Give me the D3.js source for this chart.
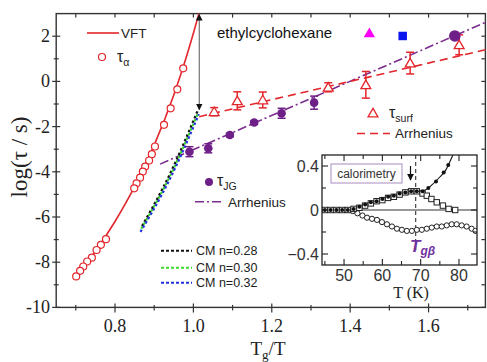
<!DOCTYPE html>
<html><head><meta charset="utf-8">
<script src="https://cdn.jsdelivr.net/npm/d3@7"></script>
<style>body{margin:0;background:#fff}svg{display:block}</style>
</head><body><svg id="c" width="487" height="362"></svg>
<script>
// ---------- main plot data ----------
const xMajorTicks = [0.8, 1.0, 1.2, 1.4, 1.6];
const xMinorTicks = [0.7, 0.9, 1.1, 1.3, 1.5, 1.7];
const yMajorTicks = [-10, -8, -6, -4, -2, 0, 2];
const yMinorTicks = [-9, -7, -5, -3, -1, 1];

const tauAlphaX = [0.974, 0.959, 0.942, 0.925, 0.902, 0.894, 0.887, 0.877, 0.871, 0.864, 0.855, 0.849,
                   0.777, 0.764, 0.753, 0.741, 0.729, 0.719, 0.711, 0.701];
const tauAlphaY = [0.58, -0.35, -1.19, -1.92, -2.88, -3.22, -3.50, -3.77, -3.99, -4.26, -4.51, -4.73,
                   -6.98, -7.23, -7.46, -7.80, -7.97, -8.19, -8.38, -8.63];

const vftX = [0.700, 0.75, 0.80, 0.85, 0.90, 0.95, 0.98, 1.00, 1.014];
const vftY = [-8.65, -7.52, -6.20, -4.66, -2.82, -0.60, 0.97, 2.13, 3.0];

const cm028X = [0.869, 0.94, 1.012];
const cm028Y = [-6.40, -4.10, -1.25];
const cm030X = [0.867, 0.94, 1.013];
const cm030Y = [-6.52, -4.20, -1.35];
const cm032X = [0.865, 0.94, 1.014];
const cm032Y = [-6.66, -4.32, -1.45];

const surfX = [1.053, 1.112, 1.177, 1.344, 1.440, 1.553, 1.678];
const surfY = [-1.34, -0.86, -0.82, -0.26, -0.15, 0.81, 1.62];
const surfErr = [0.18, 0.40, 0.35, 0.20, 0.59, 0.48, 0.44];
const surfArrX = [1.015, 1.75];
const surfArrY = [-1.56, 1.42];

const jgX = [0.990, 1.038, 1.093, 1.155, 1.225, 1.308, 1.667];
const jgY = [-3.11, -2.96, -2.37, -1.82, -1.41, -0.94, 2.01];
const jgErr = [0.22, 0.20, 0.08, 0.08, 0.22, 0.29, 0];
const jgArrX = [0.915, 1.75];
const jgArrY = [-3.66, 2.65];

const triX = [1.449], triY = [2.10];
const sqX = [1.534], sqY = [2.01];

const arrowX = 1.015, arrowTop = 3.0, arrowBottom = -1.25;

// ---------- inset data ----------
const insetXTicks = [50, 60, 70, 80];
const insetXMinor = [45, 55, 65, 75];
const insetYTicks = [-0.4, 0, 0.4];
const insetYMinor = [-0.2, 0.2];

const calFilledT = [45,46.5,48,49.5,51,52.5,54,55.5,57,58.5,60,61.5,63,64.5,66,67.5,69,70.5,72,74,76,77.2];
const calFilledV = [0,0,0,0,0,0.01,0.03,0.05,0.07,0.08,0.10,0.12,0.13,0.15,0.16,0.17,0.17,0.17,0.20,0.26,0.34,0.41];
const calFitT = [44.3,50,54,58,62,66,69,71,73,75,76.5,77.5,78.4];
const calFitV = [0,0,0.03,0.08,0.12,0.16,0.17,0.18,0.23,0.30,0.36,0.43,0.5];
const calSqT = [45,46.5,48,49.5,51,52.5,54,55.5,57,58.5,60,61.5,63,64.5,66,67.5,69,70.5,71.6,72.8,74.2,75.8,77.3,79];
const calSqV = [0,0,0,0,0,0.01,0.02,0.04,0.06,0.08,0.09,0.11,0.12,0.14,0.16,0.17,0.17,0.15,0.13,0.10,0.07,0.04,0.01,0];
const calCirT = [51,52.3,53.5,54.8,56,57.3,58.6,59.9,61.2,62.5,63.8,65.1,66.4,67.7,69,70.3,71.6,72.9,74.2,75.5,76.8,78.1,79.4,80.7,82,83.3,84.3];
const calCirV = [0,-0.01,-0.03,-0.05,-0.07,-0.08,-0.09,-0.11,-0.13,-0.15,-0.17,-0.18,-0.19,-0.19,-0.18,-0.18,-0.17,-0.16,-0.15,-0.15,-0.14,-0.13,-0.13,-0.14,-0.15,-0.17,-0.19];
const tgBeta = 68.7;

// ---------- colours ----------
const RED = "#e3262b", PURPLE = "#6e1f88", DASHPURPLE = "#7a2d8e";
const SERIF = "'Liberation Serif','Times New Roman',serif";
const SANS = "'Liberation Sans',Arial,sans-serif";

const svg = d3.select("#c");
const zip = (a, b) => a.map((v, i) => [v, b[i]]);

const x = d3.scaleLinear().domain([0.65, 1.745]).range([56.2, 485.4]);
const y = d3.scaleLinear().domain([-10, 3]).range([307.4, 13.6]);

const [X0, X1] = x.range(), [Y0, Y1] = [y(3), y(-10)];

// frame
svg.append("rect").attr("x", X0).attr("y", Y0).attr("width", X1 - X0).attr("height", Y1 - Y0)
  .attr("fill", "none").attr("stroke", "#333").attr("stroke-width", 1.4);

// ticks
const tk = svg.append("g").attr("stroke", "#333").attr("stroke-width", 1.2);
xMajorTicks.forEach(v => tk.append("line").attr("x1", x(v)).attr("x2", x(v)).attr("y1", Y1 - 4).attr("y2", Y1 + 5));
xMinorTicks.forEach(v => tk.append("line").attr("x1", x(v)).attr("x2", x(v)).attr("y1", Y1 - 2.5).attr("y2", Y1 + 3));
xMajorTicks.concat(xMinorTicks).forEach(v => tk.append("line").attr("x1", x(v)).attr("x2", x(v)).attr("y1", Y0).attr("y2", Y0 + 4));
yMajorTicks.forEach(v => tk.append("line").attr("y1", y(v)).attr("y2", y(v)).attr("x1", X0 - 4).attr("x2", X0 + 4));
yMinorTicks.forEach(v => tk.append("line").attr("y1", y(v)).attr("y2", y(v)).attr("x1", X0 - 2.5).attr("x2", X0 + 2.5));
yMajorTicks.concat(yMinorTicks).forEach(v => tk.append("line").attr("y1", y(v)).attr("y2", y(v)).attr("x1", X1 - 4).attr("x2", X1));

// tick labels
svg.append("g").selectAll("text").data(xMajorTicks).join("text")
  .attr("x", d => x(d)).attr("y", 332).attr("text-anchor", "middle")
  .attr("font-family", SERIF).attr("font-size", 18).attr("fill", "#222")
  .text(d => d3.format(".1f")(d));
svg.append("g").selectAll("text").data(yMajorTicks).join("text")
  .attr("x", 50).attr("y", d => y(d) + 6).attr("text-anchor", "end")
  .attr("font-family", SERIF).attr("font-size", 18).attr("fill", "#222")
  .text(d => d < 0 ? "-" + Math.abs(d) : String(d));

// axis titles
svg.append("text").attr("transform", "translate(27,157) rotate(-90)").attr("text-anchor", "middle")
  .attr("font-family", SERIF).attr("font-size", 23).attr("fill", "#222").text("log(τ / s)");
const xt = svg.append("text").attr("x", 268).attr("y", 355).attr("text-anchor", "middle")
  .attr("font-family", SERIF).attr("font-size", 19).attr("fill", "#222");
xt.append("tspan").text("T");
xt.append("tspan").attr("font-size", 13).attr("dy", 4).text("g");
xt.append("tspan").attr("dy", -4).text("/T");

// lines
const line = d3.line().x(d => x(d[0])).y(d => y(d[1]));
const lineSmooth = d3.line().x(d => x(d[0])).y(d => y(d[1])).curve(d3.curveMonotoneX);

svg.append("path").attr("d", line(zip(jgArrX, jgArrY))).attr("fill", "none")
  .attr("stroke", DASHPURPLE).attr("stroke-width", 1.6).attr("stroke-dasharray", "9,3,2,3");
svg.append("path").attr("d", line(zip(surfArrX, surfArrY))).attr("fill", "none")
  .attr("stroke", RED).attr("stroke-width", 1.6).attr("stroke-dasharray", "8,5");

[[cm028X, cm028Y, "#111"], [cm030X, cm030Y, "#3adb2a"], [cm032X, cm032Y, "#2230e0"]].forEach(([xs, ys, c]) => {
  svg.append("path").attr("d", lineSmooth(zip(xs, ys))).attr("fill", "none")
    .attr("stroke", c).attr("stroke-width", 2.2).attr("stroke-dasharray", "2.5,2.5");
});

svg.append("path").attr("d", lineSmooth(zip(vftX, vftY))).attr("fill", "none")
  .attr("stroke", RED).attr("stroke-width", 1.6);

// double arrow
svg.append("defs").html(
  '<marker id="ah" viewBox="0 0 10 10" refX="9" refY="5" markerWidth="6" markerHeight="7" orient="auto-start-reverse">' +
  '<path d="M0,0 L10,5 L0,10 z" fill="#111"/></marker>');
svg.append("line").attr("x1", x(arrowX)).attr("x2", x(arrowX)).attr("y1", y(arrowTop) + 1).attr("y2", y(arrowBottom))
  .attr("stroke", "#666").attr("stroke-width", 1.1)
  .attr("marker-start", "url(#ah)").attr("marker-end", "url(#ah)");

// error bars
function errBars(xs, ys, es, col) {
  const g = svg.append("g").attr("stroke", col).attr("stroke-width", 1.5);
  xs.forEach((xv, i) => {
    if (!es[i]) return;
    const cx = x(xv), t = y(ys[i] + es[i]), b = y(ys[i] - es[i]);
    g.append("line").attr("x1", cx).attr("x2", cx).attr("y1", t).attr("y2", b);
    g.append("line").attr("x1", cx - 4).attr("x2", cx + 4).attr("y1", t).attr("y2", t);
    g.append("line").attr("x1", cx - 4).attr("x2", cx + 4).attr("y1", b).attr("y2", b);
  });
}
errBars(surfX, surfY, surfErr, RED);
errBars(jgX, jgY, jgErr, PURPLE);

// points
const tri = d3.symbol(d3.symbolTriangle).size(42)();
svg.append("g").selectAll("path").data(zip(surfX, surfY)).join("path")
  .attr("d", tri).attr("transform", d => `translate(${x(d[0])},${y(d[1]) + 1})`)
  .attr("fill", "#fff").attr("stroke", RED).attr("stroke-width", 1.3);
svg.append("g").selectAll("circle").data(zip(jgX, jgY)).join("circle")
  .attr("cx", d => x(d[0])).attr("cy", d => y(d[1])).attr("r", (d, i) => i === jgX.length - 1 ? 5.8 : 4.3)
  .attr("fill", PURPLE);
svg.append("g").selectAll("circle").data(zip(tauAlphaX, tauAlphaY)).join("circle")
  .attr("cx", d => x(d[0])).attr("cy", d => y(d[1])).attr("r", 3.5)
  .attr("fill", "#fff").attr("stroke", RED).attr("stroke-width", 1.2);
svg.append("g").selectAll("path").data(zip(triX, triY)).join("path")
  .attr("d", d3.symbol(d3.symbolTriangle).size(55)()).attr("transform", d => `translate(${x(d[0])},${y(d[1])})`)
  .attr("fill", "#ff00ff");
svg.append("g").selectAll("path").data(zip(sqX, sqY)).join("path")
  .attr("d", d3.symbol(d3.symbolSquare).size(72)()).attr("transform", d => `translate(${x(d[0])},${y(d[1])})`)
  .attr("fill", "#0a14ee");

// texts / legends
svg.append("text").attr("x", 217).attr("y", 38).attr("font-family", SANS).attr("font-size", 15)
  .attr("fill", "#111").text("ethylcyclohexane");

svg.append("line").attr("x1", 87).attr("x2", 119).attr("y1", 33).attr("y2", 33).attr("stroke", RED).attr("stroke-width", 1.6);
svg.append("text").attr("x", 121).attr("y", 38).attr("font-family", SANS).attr("font-size", 13.5).attr("fill", "#222").text("VFT");
svg.append("circle").attr("cx", 102).attr("cy", 57).attr("r", 3.5).attr("fill", "#fff").attr("stroke", RED).attr("stroke-width", 1.2);
function tauLabel(px, py, sub, col) {
  const t = svg.append("text").attr("x", px).attr("y", py).attr("font-family", SANS).attr("font-size", 16).attr("fill", col);
  t.append("tspan").text("τ");
  t.append("tspan").attr("font-size", 10.5).attr("dy", 4).text(sub);
}
tauLabel(117, 62, "α", "#222");

svg.append("path").attr("d", tri).attr("transform", "translate(373,114)")
  .attr("fill", "#fff").attr("stroke", RED).attr("stroke-width", 1.3);
tauLabel(389, 118, "surf", "#222");
svg.append("line").attr("x1", 357).attr("x2", 390).attr("y1", 133.5).attr("y2", 133.5)
  .attr("stroke", RED).attr("stroke-width", 1.6).attr("stroke-dasharray", "8,5");
svg.append("text").attr("x", 395).attr("y", 138).attr("font-family", SANS).attr("font-size", 13.5).attr("fill", "#222").text("Arrhenius");

svg.append("circle").attr("cx", 209).attr("cy", 182).attr("r", 4).attr("fill", PURPLE);
tauLabel(217, 186, "JG", "#222");
svg.append("line").attr("x1", 195).attr("x2", 222).attr("y1", 201.7).attr("y2", 201.7)
  .attr("stroke", DASHPURPLE).attr("stroke-width", 1.6).attr("stroke-dasharray", "9,3,2,3");
svg.append("text").attr("x", 228).attr("y", 206.5).attr("font-family", SANS).attr("font-size", 13.5).attr("fill", "#222").text("Arrhenius");

const cmLeg = [["#111", "CM n=0.28", 250.7], ["#3adb2a", "CM n=0.30", 267.7], ["#2230e0", "CM n=0.32", 282.7]];
cmLeg.forEach(([c, t, yy]) => {
  svg.append("line").attr("x1", 161).attr("x2", 192).attr("y1", yy).attr("y2", yy)
    .attr("stroke", c).attr("stroke-width", 2).attr("stroke-dasharray", "3,2");
  svg.append("text").attr("x", 196).attr("y", yy + 4.5).attr("font-family", SANS).attr("font-size", 12.5).attr("fill", "#222").text(t);
});

// ---------- inset ----------
const xi = d3.scaleLinear().domain([44.25, 84.7]).range([322, 477]);
const yi = d3.scaleLinear().domain([-0.5, 0.5]).range([265, 155]);
const ins = svg.append("g");
ins.append("rect").attr("x", 322).attr("y", 155).attr("width", 155).attr("height", 110).attr("fill", "#fff");
ins.append("defs").html('<clipPath id="ic"><rect x="322" y="155" width="155" height="110"/></clipPath>');
const ic = ins.append("g").attr("clip-path", "url(#ic)");

ic.append("line").attr("x1", 322).attr("x2", 477).attr("y1", yi(0)).attr("y2", yi(0)).attr("stroke", "#333").attr("stroke-width", 1.2);
ic.append("line").attr("x1", xi(tgBeta)).attr("x2", xi(tgBeta)).attr("y1", 155).attr("y2", 252)
  .attr("stroke", "#333").attr("stroke-width", 1.1).attr("stroke-dasharray", "4,3");

const li = d3.line().x(d => xi(d[0])).y(d => yi(d[1])).curve(d3.curveMonotoneX);
ic.append("path").attr("d", li(zip(calFitT, calFitV))).attr("fill", "none").attr("stroke", "#111").attr("stroke-width", 1.1);

ic.append("g").selectAll("circle").data(zip(calCirT, calCirV)).join("circle")
  .attr("cx", d => xi(d[0])).attr("cy", d => yi(d[1])).attr("r", 2.6)
  .attr("fill", "#fff").attr("stroke", "#222").attr("stroke-width", 1);
ic.append("g").selectAll("rect").data(zip(calSqT, calSqV)).join("rect")
  .attr("x", d => xi(d[0]) - 2.7).attr("y", d => yi(d[1]) - 2.7).attr("width", 5.4).attr("height", 5.4)
  .attr("fill", "#fff").attr("stroke", "#222").attr("stroke-width", 1);
ic.append("g").selectAll("circle").data(zip(calFilledT, calFilledV)).join("circle")
  .attr("cx", d => xi(d[0])).attr("cy", d => yi(d[1])).attr("r", 2)
  .attr("fill", "#111");

// calorimetry box
ins.append("rect").attr("x", 331).attr("y", 164).attr("width", 71).attr("height", 19)
  .attr("fill", "#fff").attr("stroke", "#a88cc0").attr("stroke-width", 1);
ins.append("text").attr("x", 366.5).attr("y", 177.5).attr("text-anchor", "middle")
  .attr("font-family", SANS).attr("font-size", 12).attr("fill", "#333").text("calorimetry");
// arrow
ins.append("line").attr("x1", 410.5).attr("x2", 410.5).attr("y1", 166).attr("y2", 180)
  .attr("stroke", "#111").attr("stroke-width", 1.2).attr("marker-end", "url(#ah)");

// Tgβ
const tg = ins.append("text").attr("x", 410).attr("y", 252).attr("font-family", SANS)
  .attr("font-weight", "bold").attr("font-style", "italic").attr("font-size", 17).attr("fill", "#7030a0");
tg.append("tspan").text("T");
tg.append("tspan").attr("font-size", 12).attr("dy", 3).text("gβ");

// inset frame & ticks
ins.append("rect").attr("x", 322).attr("y", 155).attr("width", 155).attr("height", 110)
  .attr("fill", "none").attr("stroke", "#222").attr("stroke-width", 1.3);
const it = ins.append("g").attr("stroke", "#222").attr("stroke-width", 1.1);
insetXTicks.forEach(v => {
  it.append("line").attr("x1", xi(v)).attr("x2", xi(v)).attr("y1", 265).attr("y2", 259);
  it.append("line").attr("x1", xi(v)).attr("x2", xi(v)).attr("y1", 155).attr("y2", 161);
});
insetXMinor.forEach(v => {
  it.append("line").attr("x1", xi(v)).attr("x2", xi(v)).attr("y1", 265).attr("y2", 261);
  it.append("line").attr("x1", xi(v)).attr("x2", xi(v)).attr("y1", 155).attr("y2", 159);
});
insetYTicks.forEach(v => {
  it.append("line").attr("x1", 322).attr("x2", 328).attr("y1", yi(v)).attr("y2", yi(v));
  it.append("line").attr("x1", 477).attr("x2", 471).attr("y1", yi(v)).attr("y2", yi(v));
});
insetYMinor.forEach(v => {
  it.append("line").attr("x1", 322).attr("x2", 326).attr("y1", yi(v)).attr("y2", yi(v));
  it.append("line").attr("x1", 477).attr("x2", 473).attr("y1", yi(v)).attr("y2", yi(v));
});
ins.append("g").selectAll("text").data(insetXTicks).join("text")
  .attr("x", d => xi(d)).attr("y", 281).attr("text-anchor", "middle")
  .attr("font-family", SANS).attr("font-size", 16).attr("fill", "#333").text(d => d);
ins.append("g").selectAll("text").data(insetYTicks).join("text")
  .attr("x", 319).attr("y", d => yi(d) + 6).attr("text-anchor", "end")
  .attr("font-family", SANS).attr("font-size", 16).attr("fill", "#333")
  .text(d => d === 0 ? "0" : (d < 0 ? "\u2212" + Math.abs(d) : String(d)));
ins.append("text").attr("x", 411).attr("y", 298).attr("text-anchor", "middle")
  .attr("font-family", SERIF).attr("font-size", 16).attr("fill", "#222").text("T (K)");
</script></body></html>
